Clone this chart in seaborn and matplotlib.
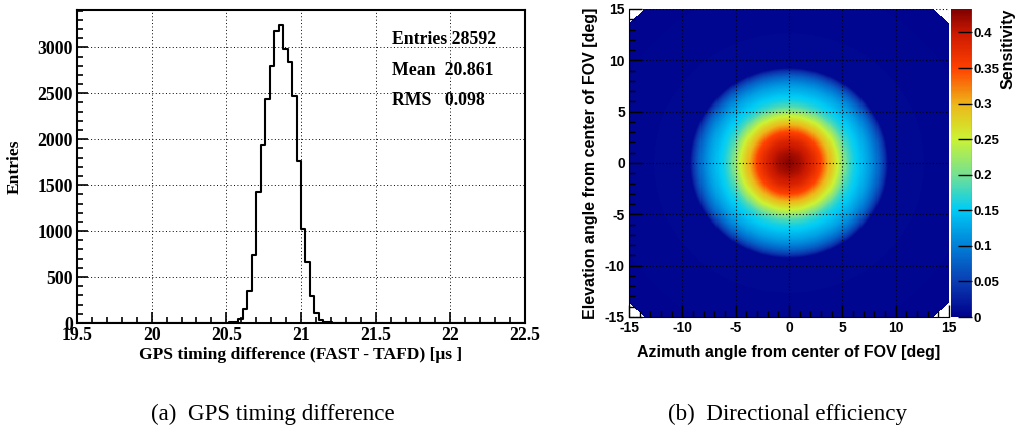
import numpy as np
import pandas as pd
import matplotlib
matplotlib.use("Agg")
import matplotlib.pyplot as plt
from matplotlib.ticker import MultipleLocator, FuncFormatter
from matplotlib.colors import LinearSegmentedColormap
import seaborn as sns

plt.rcParams["axes.unicode_minus"] = False

# ---------------- data ----------------
# histogram: 100 bins over 19.5 .. 22.5 (bin width 0.03); non-empty bins listed
hist_range = (19.5, 22.5)
hist_nbins = 100
bin_lo_edges = [20.49, 20.52, 20.55, 20.58, 20.61, 20.64, 20.67, 20.70, 20.73,
                20.76, 20.79, 20.82, 20.85, 20.88, 20.91, 20.94, 20.97, 21.00,
                21.03, 21.06, 21.09, 21.12, 21.15, 21.18, 21.21, 21.24]
bin_counts = [3, 6, 15, 40, 149, 349, 741, 1431, 1940, 2437, 2800, 3182, 3244,
              2985, 2840, 2466, 1758, 1024, 661, 298, 105, 33, 15, 6, 4, 2]
stats_lines = ["Entries 28592", "Mean  20.861", "RMS   0.098"]

# directional sensitivity: radial profile
prof_radius = [0.0, 1.0, 2.0, 3.0, 3.5, 4.0, 4.5, 5.0, 5.5, 6.0, 6.5, 7.0,
               7.5, 8.0, 8.5, 9.0, 9.3, 20.2]
prof_sens = [0.43, 0.415, 0.39, 0.35, 0.315, 0.285, 0.255, 0.22, 0.185, 0.163,
             0.15, 0.135, 0.12, 0.10, 0.075, 0.04, 0.008, 0.004]
fov_radius = 20.2
map_range = (-15, 15)
map_cells = 300
sens_max = 0.433
cbar_ticks = [0, 0.05, 0.1, 0.15, 0.2, 0.25, 0.3, 0.35, 0.4]

caption_a = "(a)  GPS timing difference"
caption_b = "(b)  Directional efficiency"

# palette
pal_pos = [0.0, 0.115, 0.23, 0.35, 0.46, 0.58, 0.69, 0.81, 0.92, 1.0]
pal_col = [(0.0, 0.0, 0.55), (0.04, 0.24, 0.70), (0.0, 0.50, 0.84),
           (0.0, 0.80, 0.96), (0.45, 0.88, 0.58), (0.80, 0.95, 0.20),
           (0.93, 0.72, 0.10), (1.0, 0.25, 0.0), (0.80, 0.10, 0.0),
           (0.50, 0.0, 0.0)]

# ---------------- figure ----------------
W, H = 1018, 429
fig = plt.figure(figsize=(W / 100, H / 100), dpi=100)

serif = ["Liberation Serif", "DejaVu Serif"]
sans = ["Liberation Sans", "DejaVu Sans"]

# ---- left: histogram ----
ax1 = fig.add_axes([77 / W, 1 - 323 / H, 448 / W, 313 / H])
bin_w = (hist_range[1] - hist_range[0]) / hist_nbins
df = pd.DataFrame({"t": np.array(bin_lo_edges) + bin_w / 2, "n": bin_counts})
sns.histplot(data=df, x="t", weights="n", bins=hist_nbins, binrange=hist_range,
             element="step", fill=False, color="black", linewidth=1.5, ax=ax1)
ax1.set_xlim(*hist_range)
ax1.set_ylim(0, 1.05 * max(bin_counts))
ax1.xaxis.set_major_locator(MultipleLocator(0.5))
ax1.xaxis.set_minor_locator(MultipleLocator(0.1))
ax1.yaxis.set_major_locator(MultipleLocator(500))
ax1.yaxis.set_minor_locator(MultipleLocator(100))
ax1.xaxis.set_major_formatter(FuncFormatter(lambda v, p: f"{v:g}"))
ax1.tick_params(which="both", direction="in", width=1.2, top=False, right=False)
ax1.tick_params(which="major", length=8, pad=3)
ax1.tick_params(which="minor", length=4)
for lab in ax1.get_xticklabels() + ax1.get_yticklabels():
    lab.set_fontfamily(serif)
    lab.set_fontweight("bold")
    lab.set_fontsize(12.8)
ax1.grid(True, which="major", color="black", linestyle=(0, (1, 2.5)), linewidth=0.7)
for s in ax1.spines.values():
    s.set_linewidth(1.5)
ax1.set_xlabel("GPS timing difference (FAST - TAFD) [μs ]", fontfamily=serif,
               fontweight="bold", fontsize=12.6)
ax1.set_ylabel("Entries", fontfamily=serif, fontweight="bold", fontsize=12.6)
ax1.xaxis.set_label_coords(0.5, -0.077)
ax1.yaxis.set_label_coords(-0.1205, 0.5)
for txt, yf in zip(stats_lines, [0.907, 0.808, 0.712]):
    ax1.text(0.703, yf, txt, transform=ax1.transAxes, ha="left", va="center",
             fontfamily=serif, fontweight="bold", fontsize=12.8)

# ---- right: sensitivity map ----
ax2 = fig.add_axes([629 / W, 1 - 317 / H, 320 / W, 308 / H])
cax = fig.add_axes([951 / W, 1 - 317 / H, 21 / W, 308 / H])
edges = np.linspace(map_range[0], map_range[1], map_cells + 1)
cent = 0.5 * (edges[:-1] + edges[1:])
XX, YY = np.meshgrid(cent, cent)
RR = np.hypot(XX, YY)
Z = np.interp(RR, prof_radius, prof_sens)
Z = np.where(RR > fov_radius, np.nan, Z)
cmap = LinearSegmentedColormap.from_list("rootpal", list(zip(pal_pos, pal_col)), N=256)
cmap.set_bad("white")
mesh = ax2.pcolormesh(edges, edges, Z, cmap=cmap, vmin=0, vmax=sens_max,
                      shading="flat", rasterized=True)
ax2.set_xlim(*map_range)
ax2.set_ylim(*map_range)
ax2.set_aspect("auto")
for a in (ax2.xaxis, ax2.yaxis):
    a.set_major_locator(MultipleLocator(5))
    a.set_minor_locator(MultipleLocator(1))
ax2.tick_params(which="both", direction="in", width=1.0, top=False, right=False,
                labelsize=10)
ax2.tick_params(which="major", length=9, pad=3)
ax2.tick_params(which="minor", length=4)
for lab in ax2.get_xticklabels() + ax2.get_yticklabels():
    lab.set_fontfamily(sans)
    lab.set_fontweight("bold")
ax2.set_axisbelow(False)
ax2.grid(True, which="major", color="black", linestyle=(0, (1, 2)), linewidth=0.8)
for side in ("top", "right"):
    ax2.spines[side].set_visible(False)
for side in ("left", "bottom"):
    ax2.spines[side].set_linewidth(0.8)
ax2.set_xlabel("Azimuth angle from center of FOV [deg]", fontfamily=sans,
               fontweight="bold", fontsize=11.5)
ax2.set_ylabel("Elevation angle from center of FOV [deg]", fontfamily=sans,
               fontweight="bold", fontsize=11.5)
ax2.xaxis.set_label_coords(0.5, -0.091)
ax2.yaxis.set_label_coords(-0.097, 0.5)

cb = fig.colorbar(mesh, cax=cax, ticks=cbar_ticks)
cb.outline.set_visible(False)
cax.axvline(1.0, color="#888888", linewidth=1.0)
cax.yaxis.set_major_formatter(FuncFormatter(lambda v, p: f"{v:g}"))
cax.tick_params(which="major", direction="in", length=10, width=1.0, pad=1,
                labelsize=9.5)
cax.tick_params(which="minor", length=0)
for lab in cax.get_yticklabels():
    lab.set_fontfamily(sans)
    lab.set_fontweight("bold")
fig.text(1008 / W, 1 - 9 / H, "Sensitivity", rotation=90, ha="center", va="top",
         fontfamily=sans, fontweight="bold", fontsize=11.5)

# ---- captions ----
fig.text(273 / W, 1 - 420 / H, caption_a, ha="center", va="baseline",
         fontfamily=serif, fontsize=16.6)
fig.text(787 / W, 1 - 420 / H, caption_b, ha="center", va="baseline",
         fontfamily=serif, fontsize=16.6)

fig.savefig("out.png", dpi=100)
